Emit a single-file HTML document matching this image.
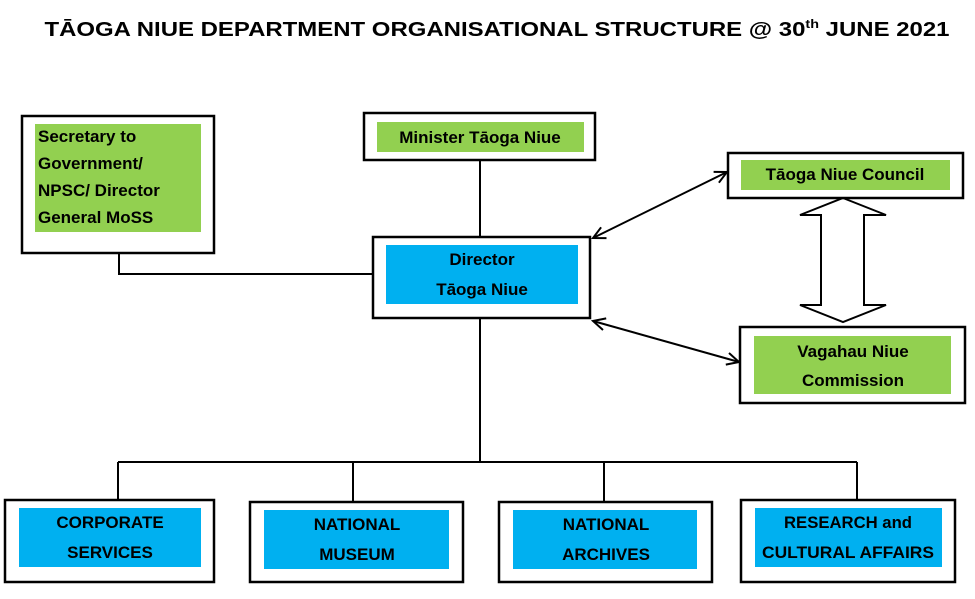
<!DOCTYPE html>
<html><head><meta charset="utf-8"><style>
html,body{margin:0;padding:0;background:#fff;}
svg{display:block;}
text{font-family:"Liberation Sans",sans-serif;font-weight:bold;fill:#000;}
.t{font-size:17px;}
</style></head><body>
<svg width="975" height="599" viewBox="0 0 975 599" xmlns="http://www.w3.org/2000/svg">
<text x="497" y="36" font-size="20" text-anchor="middle" textLength="905" lengthAdjust="spacingAndGlyphs">TĀOGA NIUE DEPARTMENT ORGANISATIONAL STRUCTURE @ 30<tspan font-size="12" dy="-8">th</tspan><tspan dy="8"> JUNE 2021</tspan></text>
<g stroke="#000" stroke-width="2" fill="none">
<polyline points="119,253 119,274 373,274"/>
<line x1="480" y1="160" x2="480" y2="237"/>
<line x1="480" y1="318" x2="480" y2="462"/>
<line x1="118" y1="462" x2="857" y2="462"/>
<line x1="118" y1="462" x2="118" y2="500"/>
<line x1="353" y1="462" x2="353" y2="502"/>
<line x1="604" y1="462" x2="604" y2="502"/>
<line x1="857" y1="462" x2="857" y2="500"/>
<line x1="593" y1="238" x2="727" y2="172"/>
<polyline points="606.5,238.1 593,238 601.1,227.3"/>
<polyline points="718.9,182.7 727,172 713.6,171.9"/>
<line x1="593" y1="321" x2="739" y2="362"/>
<polyline points="603,330 593,321 606.2,318.4"/>
<polyline points="725.8,364.6 739,362 729,353"/>
<polygon points="843,198 886,215 864,215 864,305 886,305 843,322 800,305 821,305 821,215 800,215" stroke-width="2"/>
</g>
<g stroke="#000" stroke-width="2.5" fill="#fff">
<rect x="22" y="116" width="192" height="137"/>
<rect x="364" y="113" width="231" height="47"/>
<rect x="373" y="237" width="217" height="81"/>
<rect x="728" y="153" width="235" height="45"/>
<rect x="740" y="327" width="225" height="76"/>
<rect x="5" y="500" width="209" height="82"/>
<rect x="250" y="502" width="213" height="80"/>
<rect x="499" y="502" width="213" height="80"/>
<rect x="741" y="500" width="214" height="82"/>
</g>
<g fill="#92d050">
<rect x="35" y="124" width="166" height="108"/>
<rect x="377" y="122" width="207" height="30"/>
<rect x="741" y="160" width="209" height="30"/>
<rect x="754" y="336" width="197" height="58"/>
</g>
<g fill="#00b0f0">
<rect x="386" y="245" width="192" height="59"/>
<rect x="19" y="508" width="182" height="59"/>
<rect x="264" y="510" width="185" height="59"/>
<rect x="513" y="510" width="184" height="59"/>
<rect x="755" y="508" width="187" height="59"/>
</g>
<g class="t">
<text x="38" y="142">Secretary to</text>
<text x="38" y="169">Government/</text>
<text x="38" y="196">NPSC/ Director</text>
<text x="38" y="223">General MoSS</text>
<text x="480" y="143" text-anchor="middle">Minister Tāoga Niue</text>
<text x="482" y="265" text-anchor="middle">Director</text>
<text x="482" y="295" text-anchor="middle">Tāoga Niue</text>
<text x="845" y="180" text-anchor="middle">Tāoga Niue Council</text>
<text x="853" y="357" text-anchor="middle">Vagahau Niue</text>
<text x="853" y="386" text-anchor="middle">Commission</text>
<text x="110" y="528" text-anchor="middle">CORPORATE</text>
<text x="110" y="558" text-anchor="middle">SERVICES</text>
<text x="357" y="530" text-anchor="middle">NATIONAL</text>
<text x="357" y="560" text-anchor="middle">MUSEUM</text>
<text x="606" y="530" text-anchor="middle">NATIONAL</text>
<text x="606" y="560" text-anchor="middle">ARCHIVES</text>
<text x="848" y="528" text-anchor="middle" textLength="128" lengthAdjust="spacingAndGlyphs">RESEARCH and</text>
<text x="848" y="558" text-anchor="middle" textLength="172" lengthAdjust="spacingAndGlyphs">CULTURAL AFFAIRS</text>
</g>
</svg>
</body></html>
